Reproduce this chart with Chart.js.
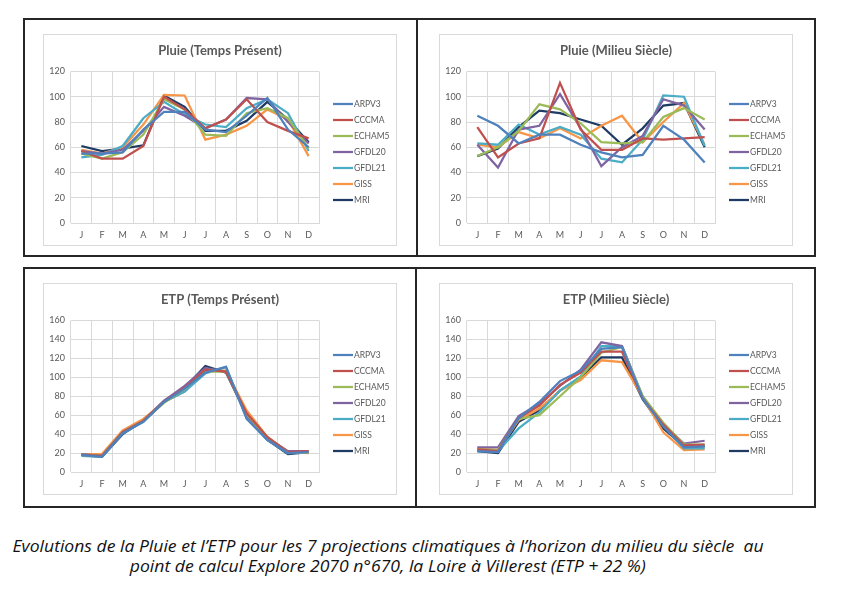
<!DOCTYPE html>
<html>
<head>
<meta charset="utf-8">
<script src="https://cdn.jsdelivr.net/npm/chart.js@4/dist/chart.umd.min.js"></script>
<style>
  body { margin: 0; background: #fff; width: 846px; height: 590px; position: relative; overflow: hidden; font-family: Lato, "Open Sans", sans-serif; }
  .frame { position: absolute; border: 2px solid #262626; box-sizing: border-box; }
  .vline { position: absolute; width: 2px; background: #262626; }
  .box { position: absolute; border: 1px solid #d9d9d9; box-sizing: border-box; width: 354px; height: 212px; }
  canvas { position: absolute; }
  #caption { position: absolute; left: 0; top: 536px; width: 776px; text-align: center; font-family: "Open Sans", Lato, sans-serif; font-style: italic; font-size: 16px; line-height: 20px; color: #111; }
  #caption span { display: inline-block; white-space: pre; transform-origin: center; }
</style>
</head>
<body>
<div class="frame" style="left:23px;top:18px;width:793px;height:239px"></div>
<div class="vline" style="left:416px;top:18px;height:239px"></div>
<div class="frame" style="left:23px;top:267px;width:793px;height:241px"></div>
<div class="vline" style="left:415px;top:267px;height:241px"></div>

<div class="box" style="left:43px;top:34px"></div>
<div class="box" style="left:439px;top:34px"></div>
<div class="box" style="left:43px;top:283px"></div>
<div class="box" style="left:439px;top:283px"></div>

<canvas id="c1" width="354" height="212" style="left:43px;top:34px"></canvas>
<canvas id="c2" width="354" height="212" style="left:439px;top:34px"></canvas>
<canvas id="c3" width="354" height="212" style="left:43px;top:283px"></canvas>
<canvas id="c4" width="354" height="212" style="left:439px;top:283px"></canvas>

<div id="caption">
  <span data-w="751">Evolutions de la Pluie et l’ETP pour les 7 projections climatiques à l’horizon du milieu du siècle  au</span><br>
  <span data-w="516">point de calcul Explore 2070 n°670, la Loire à Villerest (ETP + 22 %)</span>
</div>

<script>
const months = ['J', 'F', 'M', 'A', 'M', 'J', 'J', 'A', 'S', 'O', 'N', 'D'];
const models = ['ARPV3', 'CCCMA', 'ECHAM5', 'GFDL20', 'GFDL21', 'GISS', 'MRI'];
const colors = ['#4f81bd', '#c0504d', '#9bbb59', '#8064a2', '#4bacc6', '#f79646', '#1f3b63'];

// Pluie (Temps Présent), one row per model
const pluiePresent = [
  [55, 55, 56, 74, 88, 88, 74, 72, 85, 99, 74, 60],
  [57, 51, 51, 61, 100, 90, 75, 82, 98, 80, 73, 67],
  [55, 51, 56, 70, 98, 90, 70, 69, 87, 91, 83, 59],
  [57, 55, 58, 73, 92, 85, 75, 82, 99, 98, 80, 63],
  [52, 54, 61, 83, 96, 86, 78, 76, 91, 98, 87, 57],
  [58, 55, 60, 78, 101.5, 101, 66, 70, 77, 90, 82, 53],
  [61, 57, 59, 61.5, 101, 92, 73, 73, 81, 96, 82, 64]
];
// Pluie (Milieu Siècle)
const pluieMilieu = [
  [85, 77, 63, 70, 70, 62, 56, 52, 54, 77, 66, 48],
  [76, 52, 63, 67, 111, 74, 58, 58, 67, 66, 67, 68],
  [53, 60, 73, 94, 90, 79, 64, 63, 64, 84, 91, 82],
  [62, 44, 74, 77, 102, 75, 45, 60, 69, 98, 93, 74],
  [63, 62, 78, 70, 76, 70, 51, 48, 66, 101, 100, 61],
  [62, 60, 72, 67, 75, 67, 77, 85, 64, 80, 95, 62],
  [53, 59, 76, 89, 87, 82, 77, 62, 75, 93, 95, 60]
];
// ETP (Temps Présent)
const etpPresent = [
  [18, 16, 41, 53, 74, 88, 105, 111, 56, 34, 20, 21],
  [18, 17, 42, 54, 74, 89, 108, 106, 62, 37, 21, 22],
  [18, 17, 42, 54, 73, 88, 106, 106, 61, 36, 21, 21],
  [19, 17, 42, 54, 75, 91, 110, 106, 60, 36, 22, 22],
  [17, 16, 41, 53, 74, 85, 104, 111, 57, 34, 20, 21],
  [19, 19, 44, 56, 74, 85, 108, 107, 65, 37, 21, 20],
  [18, 16, 40, 54, 75, 89, 112, 105, 60, 34, 19, 21]
];
// ETP (Milieu Siècle)
const etpMilieu = [
  [22, 21, 57, 74, 96, 107, 130, 132, 78, 48, 26, 27],
  [24, 22, 57, 70, 92, 105, 127, 127, 78, 50, 28, 29],
  [24, 23, 56, 60, 80, 100, 126, 132, 80, 52, 29, 29],
  [26, 26, 59, 72, 91, 108, 137, 133, 79, 50, 30, 33],
  [22, 22, 46, 63, 86, 101, 133, 133, 80, 49, 25, 25],
  [25, 23, 55, 67, 86, 97, 118, 116, 79, 42, 23, 24],
  [22, 20, 53, 65, 86, 100, 121, 121, 77, 46, 27, 27]
];

const FONT = 'Lato, "Open Sans", sans-serif';
const GREY = '#595959';
const GRID = '#d9d9d9';

// Excel-like title (centred on the whole chart box) and legend in the right padding
const excelBits = {
  id: 'excelBits',
  afterDraw(chart, args, opts) {
    const ctx = chart.ctx;
    ctx.save();
    ctx.font = 'bold 13px ' + FONT;
    ctx.fillStyle = GREY;
    ctx.textAlign = 'center';
    ctx.textBaseline = 'middle';
    ctx.fillText(opts.title, chart.width / 2, 17);

    ctx.font = '8.5px ' + FONT;
    ctx.textAlign = 'left';
    chart.data.datasets.forEach(function(ds, i) {
      const y = opts.top + i * 16;
      ctx.strokeStyle = ds.borderColor;
      ctx.lineWidth = 2.25;
      ctx.beginPath();
      ctx.moveTo(opts.x, y);
      ctx.lineTo(opts.x + 20, y);
      ctx.stroke();
      ctx.fillText(ds.label, opts.x + 21, y + 0.5);
    });
    ctx.restore();
  }
};

function makeChart(id, title, rows, yMax, legendTop) {
  return new Chart(document.getElementById(id), {
    type: 'line',
    data: {
      labels: months,
      datasets: rows.map(function(r, i) {
        return {
          label: models[i],
          data: r,
          borderColor: colors[i],
          backgroundColor: colors[i],
          borderWidth: 2.25,
          pointRadius: 0,
          tension: 0,
          fill: false
        };
      })
    },
    options: {
      responsive: false,
      animation: false,
      layout: { padding: { left: 0, right: 78, top: 37.5, bottom: 0 } },
      plugins: {
        legend: { display: false },
        tooltip: { enabled: false },
        title: { display: false },
        excelBits: { title: title, x: 290, top: legendTop }
      },
      scales: {
        x: {
          offset: true,
          grid: { offset: true, color: GRID, drawTicks: false },
          border: { color: GRID },
          ticks: { color: GREY, font: { family: FONT, size: 9 }, padding: 7, autoSkip: false, maxRotation: 0 },
          afterFit: function(s) { s.height = 23; }
        },
        y: {
          min: 0,
          max: yMax,
          grid: { color: GRID, drawTicks: false },
          border: { display: false },
          ticks: { stepSize: 20, color: GREY, font: { family: FONT, size: 9 }, padding: 6 },
          afterFit: function(s) { s.width = 28; }
        }
      }
    },
    plugins: [excelBits]
  });
}

makeChart('c1', 'Pluie (Temps Présent)', pluiePresent, 120, 70);
makeChart('c2', 'Pluie (Milieu Siècle)', pluieMilieu, 120, 70);
makeChart('c3', 'ETP (Temps Présent)', etpPresent, 160, 72);
makeChart('c4', 'ETP (Milieu Siècle)', etpMilieu, 160, 72);

// squeeze caption lines to the reference widths
document.querySelectorAll('#caption span').forEach(function(sp) {
  const w = sp.getBoundingClientRect().width;
  sp.style.transform = 'scaleX(' + (parseFloat(sp.dataset.w) / w) + ')';
});
</script>
</body>
</html>
